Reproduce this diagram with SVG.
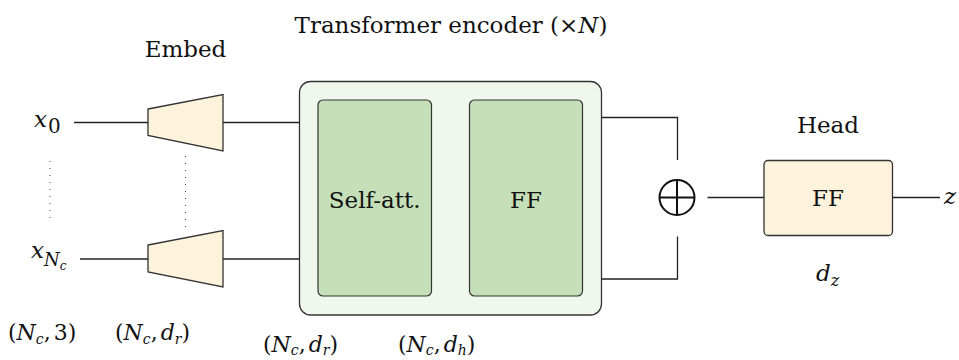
<svg xmlns="http://www.w3.org/2000/svg" width="959" height="360" viewBox="0 0 959 360">
<style>
text{font-family:"DejaVu Serif","Liberation Serif",serif;fill:#111;font-size:23px}
.m{font-style:italic}
.ln{stroke:#222;stroke-width:1.3;fill:none}
.dot{stroke:#444;stroke-width:1;stroke-dasharray:1 6;fill:none}
.emb{fill:#fdf3dc;stroke:#333;stroke-width:1.3}
.blk{fill:#c5e0b8;stroke:#333;stroke-width:1.2}
.dm{font-size:22px}
.sb{font-size:14px;font-style:italic}
</style>
<rect width="959" height="360" fill="#fff"/>
<g id="connectors">
<line class="ln" x1="74" y1="122.5" x2="148" y2="122.5"/>
<line class="ln" x1="80" y1="259" x2="148" y2="259"/>
<line class="ln" x1="223" y1="122.5" x2="300" y2="122.5"/>
<line class="ln" x1="223" y1="259" x2="300" y2="259"/>
<polyline class="ln" points="602,117.5 677.5,117.5 677.5,160"/>
<polyline class="ln" points="602,279 677.5,279 677.5,236.5"/>
<line class="ln" x1="707.5" y1="197.5" x2="764" y2="197.5"/>
<line class="ln" x1="893" y1="197.5" x2="940" y2="197.5"/>
<line class="dot" x1="50" y1="161" x2="50" y2="222"/>
<line class="dot" x1="185.5" y1="156" x2="185.5" y2="228"/>
</g>
<g id="x0"><text class="m" x="34" y="127" font-size="28">x<tspan dx="1" dy="6" font-style="normal" font-size="20">0</tspan></text></g>
<g id="xN"><text class="m" x="31" y="258" font-size="28">x<tspan dy="8" font-size="18">N</tspan><tspan dy="4" font-size="12">c</tspan></text></g>
<g id="embed">
<text x="185.5" y="57" text-anchor="middle">Embed</text>
<polygon class="emb" points="148,109 223,94.5 223,151 148,135.5"/>
<polygon class="emb" points="148,245 223,230.5 223,287 148,272"/>
</g>
<g id="encoder">
<text x="451" y="33" text-anchor="middle" font-size="23.5">Transformer encoder (×<tspan class="m">N</tspan>)</text>
<rect x="299.5" y="81.5" width="302" height="233.5" rx="11" fill="#f0f7ec" stroke="#333" stroke-width="1.3"/>
</g>
<g id="selfatt">
<rect class="blk" x="318" y="100" width="113.5" height="196" rx="5"/>
<text x="374.7" y="208" text-anchor="middle">Self-att.</text>
</g>
<g id="ff1">
<rect class="blk" x="469.5" y="100" width="113" height="196" rx="5"/>
<text x="526" y="208" text-anchor="middle">FF</text>
</g>
<g id="sum">
<circle cx="677" cy="197.5" r="17.5" fill="none" stroke="#111" stroke-width="2"/>
<line x1="659.5" y1="197.5" x2="694.5" y2="197.5" stroke="#111" stroke-width="2"/>
<line x1="677" y1="180" x2="677" y2="215" stroke="#111" stroke-width="2"/>
</g>
<g id="head">
<text x="828" y="133" text-anchor="middle">Head</text>
<rect x="764" y="160.5" width="128.5" height="75" rx="4" fill="#fdf3dc" stroke="#333" stroke-width="1.3"/>
<text x="828" y="206" text-anchor="middle">FF</text>
<text class="m" x="816" y="281">d<tspan dy="5" font-size="16">z</tspan></text>
</g>
<g id="z"><text class="m" x="944" y="204">z</text></g>
<g id="dims">
<text class="dm" x="8" y="340">(<tspan class="m">N</tspan><tspan class="sb" dy="4">c</tspan><tspan dy="-4">,</tspan><tspan dx="3">3)</tspan></text>
<text class="dm" x="115" y="340">(<tspan class="m">N</tspan><tspan class="sb" dy="4">c</tspan><tspan dy="-4">,</tspan><tspan class="m" dx="3">d</tspan><tspan class="sb" dy="4">r</tspan><tspan dy="-4">)</tspan></text>
<text class="dm" x="263" y="352">(<tspan class="m">N</tspan><tspan class="sb" dy="3">c</tspan><tspan dy="-3">,</tspan><tspan class="m" dx="3">d</tspan><tspan class="sb" dy="3">r</tspan><tspan dy="-3">)</tspan></text>
<text class="dm" x="398" y="352">(<tspan class="m">N</tspan><tspan class="sb" dy="3">c</tspan><tspan dy="-3">,</tspan><tspan class="m" dx="3">d</tspan><tspan class="sb" dy="3">h</tspan><tspan dy="-3">)</tspan></text>
</g>
</svg>
